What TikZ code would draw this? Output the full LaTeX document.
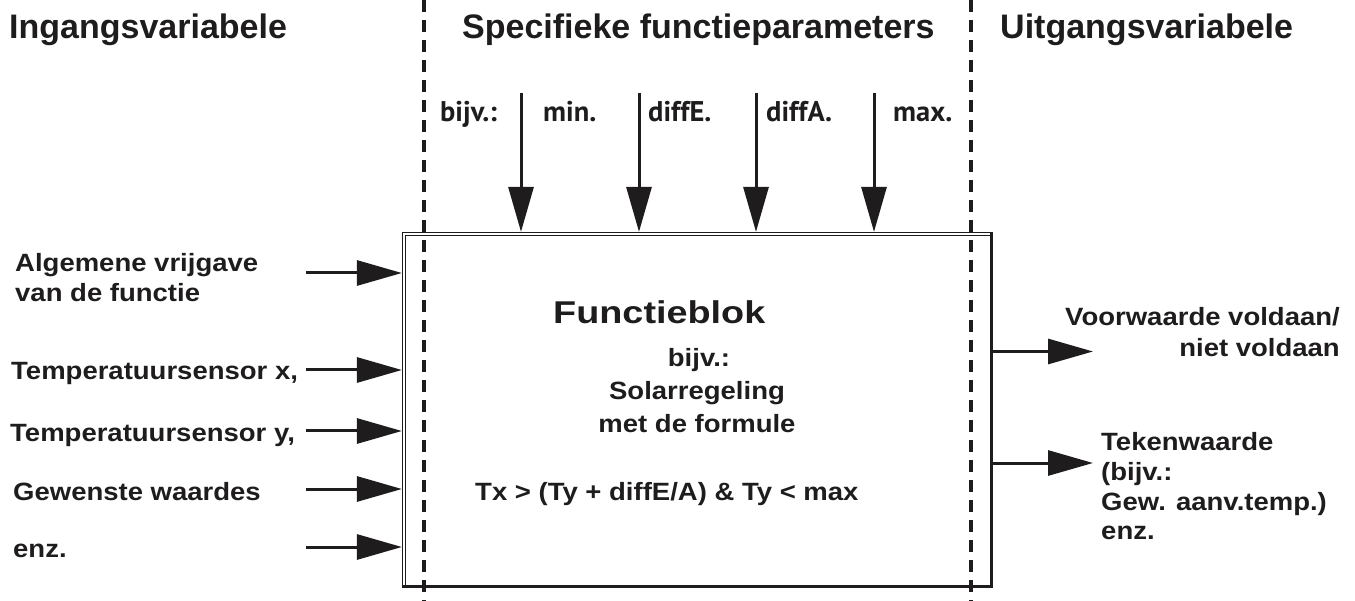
\documentclass[tikz,border=0pt]{standalone}
\usepackage{fontspec}
\setmainfont{Liberation Sans}
\newfontfamily\myr{PT Sans}
\usetikzlibrary{arrows.meta}
\definecolor{ink}{HTML}{1E1C1D}
\newcommand\stx[3]{\scalebox{#2}[1]{\fontsize{#1}{#1}\selectfont\bfseries #3}}
\newcommand\mtx[1]{{\myr\fontsize{28.5}{28.5}\selectfont\bfseries #1}}
\tikzset{
  txt/.style={inner sep=0pt, text=ink},
  arr/.style={draw=ink, line width=3pt, -{Triangle[length=45pt,width=25pt]}},
  divider/.style={draw=ink, line width=3.5pt, dash pattern=on 12pt off 8pt},
}
\begin{document}
\begin{tikzpicture}[x=1pt,y=-1pt]
\useasboundingbox (0,0) rectangle (1355,601);
% box
\node[draw=ink, line width=1.2pt, minimum width=589.5pt, minimum height=354.5pt, inner sep=0pt] (box) at (697.25,409.75) {};
\node[draw=ink, line width=1.2pt, minimum width=585.5pt, minimum height=351pt, inner sep=0pt] (inner) at (698.25,411) {};
\draw[ink, line width=3pt] (991,233) -- (991,586.5) -- (402.5,586.5);
% dividers
\coordinate (d1t) at (424,0); \coordinate (d1b) at (424,601);
\coordinate (d2t) at (971,0); \coordinate (d2b) at (971,601);
\draw[divider] (d1t) -- (d1b);
\draw[divider] (d2t) -- (d2b);
% titles
\node[txt, anchor=base west] (t1) at (9,39) {\stx{34}{1.0}{Ingangsvariabele}};
\node[txt, anchor=base west] (t2) at (462,39) {\stx{34}{1.0}{Specifieke functieparameters}};
\node[txt, anchor=base west] (t3) at (1000,39) {\stx{34}{1.0}{Uitgangsvariabele}};
% top parameters
\node[txt, anchor=base west] (p0) at (440,122) {\mtx{bijv.:}};
\node[txt, anchor=base west] (p1) at (543,122) {\mtx{min.}};
\node[txt, anchor=base west] (p2) at (648,122) {\mtx{diffE.}};
\node[txt, anchor=base west] (p3) at (766,122) {\mtx{diffA.}};
\node[txt, anchor=base west] (p4) at (893,122) {\mtx{max.}};
\foreach \i/\x in {1/521,2/639,3/756,4/874}{
  \coordinate (pa\i) at (\x,93);
  \draw[arr] (pa\i) -- (pa\i |- box.north);
}
% left inputs
\foreach \i/\y in {1/273,2/370,3/431,4/489,5/547}{
  \coordinate (ia\i) at (306,\y);
  \draw[arr] (ia\i) -- (ia\i -| box.west);
}
\node[txt, anchor=base west] (l1a) at (15,272) {\stx{25}{1.1}{Algemene vrijgave}};
\node[txt, anchor=base west] (l1b) at (15,302) {\stx{25}{1.1}{van de functie}};
\node[txt, anchor=base west] (l2) at (11,380) {\stx{25}{1.1}{Temperatuursensor x,}};
\node[txt, anchor=base west] (l3) at (10,442) {\stx{25}{1.1}{Temperatuursensor y,}};
\node[txt, anchor=base west] (l4) at (13,500) {\stx{25}{1.1}{Gewenste waardes}};
\node[txt, anchor=base west] (l5) at (13,557) {\stx{25}{1.1}{enz.}};
% outputs
\foreach \i/\y in {1/351.5,2/463}{
  \coordinate (oa\i) at (1093,\y);
  \draw[arr] (oa\i -| box.east) -- (oa\i);
}
\node[txt, anchor=base east] (r1a) at (1340,326) {\stx{25}{1.1}{Voorwaarde voldaan/}};
\node[txt, anchor=base east] (r1b) at (1340,357) {\stx{25}{1.1}{niet voldaan}};
\node[txt, anchor=base west] (r2a) at (1101,450) {\stx{25}{1.1}{Tekenwaarde}};
\node[txt, anchor=base west] (r2b) at (1101,480) {\stx{25}{1.1}{(bijv.:}};
\node[txt, anchor=base west] (r2c) at (1101,510) {\stx{25}{1.1}{Gew. aanv.temp.)}};
\node[txt, anchor=base west] (r2d) at (1101,539) {\stx{25}{1.1}{enz.}};
% centre
\node[txt, anchor=base west] (fb) at (553,324) {\stx{31.5}{1.2}{Functieblok}};
\node[txt, anchor=base] (c1) at (699,367) {\stx{25}{1.1}{bijv.:}};
\node[txt, anchor=base] (c2) at (697,400) {\stx{25}{1.1}{Solarregeling}};
\node[txt, anchor=base] (c3) at (697,432) {\stx{25}{1.1}{met de formule}};
\node[txt, anchor=base west] (fx) at (475,500) {\stx{25}{1.1}{Tx > (Ty + diffE/A) \& Ty < max}};
\end{tikzpicture}
\end{document}
